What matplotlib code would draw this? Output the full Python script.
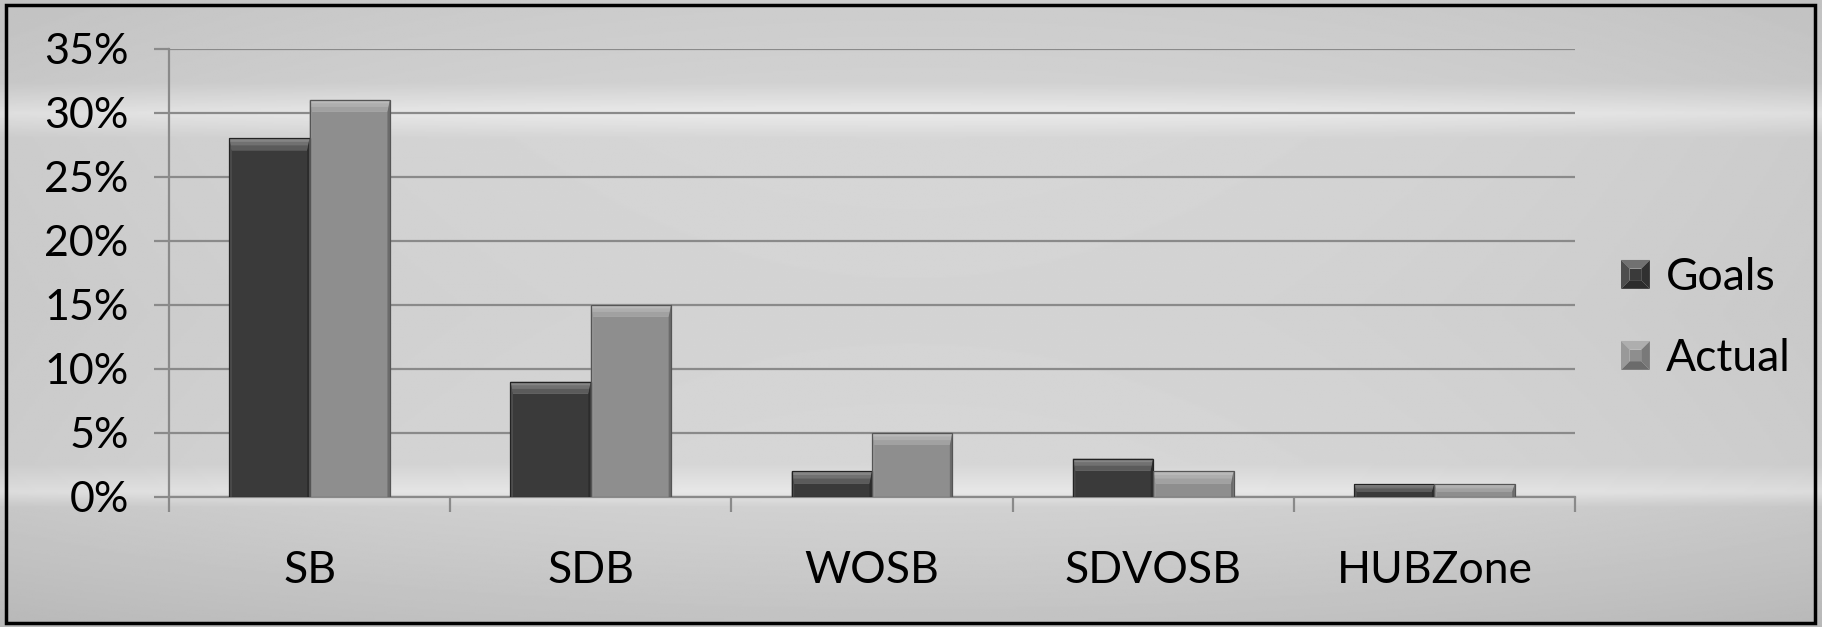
import numpy as np
import matplotlib
matplotlib.use('Agg')
import matplotlib.pyplot as plt
from matplotlib.patches import Polygon, Rectangle, Patch
from matplotlib.legend_handler import HandlerPatch

categories = ['SB', 'SDB', 'WOSB', 'SDVOSB', 'HUBZone']
goals = [28, 9, 2, 3, 1]
actual = [31, 15, 5, 2, 1]
series_names = ['Goals', 'Actual']
yticks = [0, 5, 10, 15, 20, 25, 30, 35]
ytick_labels = ['0%', '5%', '10%', '15%', '20%', '25%', '30%', '35%']

plt.rcParams['font.family'] = ['Lato', 'DejaVu Sans']

W, H = 1822, 627
fig = plt.figure(figsize=(W / 100, H / 100), dpi=100)

# grey background made of soft horizontal bands
bg = fig.add_axes([0, 0, 1, 1], zorder=-10)
rows = np.linspace(0, 1, 400)
prof = np.interp(rows, [0, 0.12, 0.19, 0.215, 0.26, 0.5, 0.78, 0.82, 0.87, 1.0],
                 [0.76, 0.80, 0.82, 0.91, 0.84, 0.83, 0.84, 0.92, 0.82, 0.80])
cols = np.linspace(-1, 1, 600)
vign = 1 - 0.05 * cols ** 2
img = prof[:, None] * vign[None, :]
bg.imshow(img, cmap='gray', vmin=0, vmax=1, aspect='auto', extent=[0, 1, 0, 1])
bg.set_xlim(0, 1)
bg.set_ylim(1, 0)
bg.axis('off')

ax = fig.add_axes([169 / W, 1 - 497 / H, (1575 - 169) / W, (497 - 48.5) / H])
ax.patch.set_alpha(0)

x = np.arange(len(categories))
bw = 1 / 3.5
b1 = ax.bar(x - bw / 2, goals, bw, color='#3a3a3a', zorder=3)
b2 = ax.bar(x + bw / 2, actual, bw, color='#8e8e8e', zorder=3)

ax.set_xlim(-0.5, len(categories) - 0.5)
ax.set_ylim(0, 35)
ax.set_yticks(yticks)
ax.set_yticklabels(ytick_labels)
ax.set_xticks(x)
ax.set_xticklabels(categories)
ax.set_xticks(np.arange(len(categories) + 1) - 0.5, minor=True)

grid_c = '#8a8a8a'
ax.yaxis.grid(True, color=grid_c, linewidth=1.6, zorder=1)
ax.set_axisbelow(True)
for s in ['top', 'right']:
    ax.spines[s].set_visible(False)
for s in ['left', 'bottom']:
    ax.spines[s].set_color(grid_c)
    ax.spines[s].set_linewidth(1.6)

ax.tick_params(axis='y', length=11, width=1.6, color=grid_c, labelsize=31, pad=18)
ax.tick_params(axis='x', which='major', length=0, labelsize=32, pad=38)
ax.tick_params(axis='x', which='minor', length=11, width=1.6, color=grid_c)


def shade(c, f):
    c = np.array(matplotlib.colors.to_rgb(c))
    if f > 0:
        return tuple(c + (1 - c) * f)
    return tuple(c * (1 + f))


# bevel look: wide light top edge fading down, thin sides
def bevel(bars, color):
    inv = ax.transData.inverted()
    for r in bars:
        x0, y0 = r.get_x(), r.get_y()
        x1, y1 = x0 + r.get_width(), y0 + r.get_height()
        p0 = ax.transData.transform((x0, y0))
        p1 = ax.transData.transform((x1, y1))
        bt = min(12, (p1[1] - p0[1]) / 1.8)
        bs = 2.5
        steps = [(0.0, 0.38), (0.3, 0.28), (0.6, 0.17)]
        for k, (f, sh) in enumerate(steps):
            a = inv.transform((p0[0] + bs * f, p1[1] - bt * f))
            b = inv.transform((p1[0] - bs * f, p1[1] - bt * f))
            c_ = inv.transform((p1[0] - bs, p1[1] - bt))
            d = inv.transform((p0[0] + bs, p1[1] - bt))
            ax.add_patch(Polygon([a, b, c_, d], closed=True, color=shade(color, sh),
                                 zorder=4 + k * 0.01, lw=0))
        q0 = inv.transform((p0[0] + bs, p0[1]))
        q1 = inv.transform((p1[0] - bs, p1[1] - bt))
        left = [(x0, y0), (x0, y1), (q0[0], q1[1]), (q0[0], y0)]
        right = [(x1, y0), (x1, y1), (q1[0], q1[1]), (q1[0], y0)]
        ax.add_patch(Polygon(left, closed=True, color=shade(color, 0.1), zorder=4.1, lw=0))
        ax.add_patch(Polygon(right, closed=True, color=shade(color, -0.25), zorder=4.1, lw=0))
        ax.add_patch(Rectangle((x0, y0), x1 - x0, y1 - y0, fill=False,
                               ec=shade(color, -0.4), lw=0.9, zorder=5))


bevel(b1, '#3a3a3a')
bevel(b2, '#8e8e8e')


class BevelSquare(HandlerPatch):
    def create_artists(self, legend, orig, xd, yd, w, h, fontsize, trans):
        c = orig.get_facecolor()
        s = min(w, h)
        x0, y0 = -xd, -yd + (h - s) / 2
        b = s * 0.3
        pts = [(x0, y0), (x0 + s, y0), (x0 + s, y0 + s), (x0, y0 + s)]
        inner = [(x0 + b, y0 + b), (x0 + s - b, y0 + b), (x0 + s - b, y0 + s - b), (x0 + b, y0 + s - b)]
        arts = []
        fs = [-0.25, -0.15, 0.28, 0.1]
        for i in range(4):
            j = (i + 1) % 4
            poly = Polygon([pts[i], pts[j], inner[j], inner[i]], closed=True,
                           color=shade(c, fs[i]), lw=0, transform=trans)
            arts.append(poly)
        arts.append(Polygon(inner, closed=True, color=c, lw=0, transform=trans))
        return arts


handles = [Patch(color='#3a3a3a'), Patch(color='#8e8e8e')]
fig.legend(handles, series_names, loc='center left', bbox_to_anchor=(1621 / W, 1 - 318 / H),
           frameon=False, fontsize=32, handlelength=0.65, handleheight=0.65,
           handletextpad=0.35, labelspacing=0.9, borderpad=0, borderaxespad=0,
           handler_map={Patch: BevelSquare()})

fig.add_artist(Rectangle((6 / W, 4 / H), 1 - 13 / W, 1 - 9 / H, transform=fig.transFigure,
                         fill=False, ec='black', lw=2.5))

fig.savefig('out.png', dpi=100)
